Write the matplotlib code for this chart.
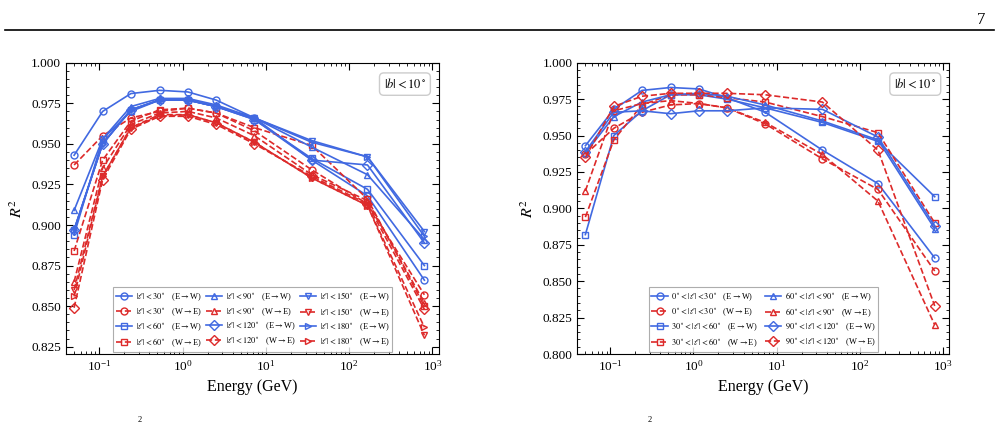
import matplotlib as mpl

mpl.use("Agg")
import matplotlib.pyplot as plt
from matplotlib.ticker import FormatStrFormatter, LogLocator

plt.rcParams["font.family"] = ["Liberation Serif", "DejaVu Serif"]
plt.rcParams["mathtext.fontset"] = "stix"

energy = [0.05, 0.11, 0.24, 0.53, 1.16, 2.53, 7.3, 35.6, 166, 800]

# left panel: cumulative longitude cuts
left_cuts = ["30", "60", "90", "120", "150", "180"]
left_markers = ["o", "s", "^", "D", "v", ">"]
left_ew = [
    [0.943, 0.970, 0.981, 0.983, 0.982, 0.977, 0.966, 0.940, 0.918, 0.866],
    [0.894, 0.953, 0.970, 0.977, 0.977, 0.973, 0.965, 0.941, 0.922, 0.875],
    [0.909, 0.953, 0.973, 0.978, 0.978, 0.974, 0.966, 0.948, 0.931, 0.891],
    [0.897, 0.950, 0.971, 0.977, 0.977, 0.973, 0.965, 0.940, 0.937, 0.889],
    [0.897, 0.950, 0.971, 0.977, 0.977, 0.973, 0.966, 0.952, 0.942, 0.896],
    [0.897, 0.950, 0.971, 0.977, 0.977, 0.973, 0.966, 0.951, 0.942, 0.893],
]
left_we = [
    [0.937, 0.955, 0.966, 0.970, 0.972, 0.969, 0.958, 0.934, 0.913, 0.857],
    [0.884, 0.940, 0.964, 0.971, 0.972, 0.969, 0.960, 0.949, 0.916, 0.850],
    [0.865, 0.935, 0.962, 0.969, 0.970, 0.966, 0.955, 0.931, 0.915, 0.852],
    [0.849, 0.928, 0.959, 0.967, 0.967, 0.962, 0.950, 0.930, 0.913, 0.848],
    [0.860, 0.930, 0.960, 0.968, 0.968, 0.963, 0.951, 0.929, 0.912, 0.832],
    [0.856, 0.930, 0.960, 0.967, 0.968, 0.963, 0.951, 0.929, 0.912, 0.837],
]

# right panel: longitude bins
right_bins = [("0", "30"), ("30", "60"), ("60", "90"), ("90", "120")]
right_markers = ["o", "s", "^", "D"]
right_ew = [
    [0.943, 0.968, 0.981, 0.983, 0.982, 0.976, 0.966, 0.940, 0.917, 0.866],
    [0.882, 0.950, 0.967, 0.978, 0.978, 0.975, 0.969, 0.959, 0.946, 0.908],
    [0.938, 0.963, 0.973, 0.978, 0.979, 0.977, 0.971, 0.960, 0.947, 0.886],
    [0.939, 0.966, 0.967, 0.965, 0.967, 0.967, 0.969, 0.968, 0.949, 0.888],
]
right_we = [
    [0.937, 0.955, 0.966, 0.971, 0.972, 0.969, 0.958, 0.934, 0.913, 0.857],
    [0.894, 0.947, 0.971, 0.978, 0.978, 0.976, 0.973, 0.963, 0.952, 0.890],
    [0.912, 0.967, 0.972, 0.974, 0.972, 0.969, 0.959, 0.937, 0.905, 0.820],
    [0.935, 0.970, 0.977, 0.979, 0.979, 0.979, 0.978, 0.973, 0.940, 0.833],
]

blue = "#4169e1"
red = "#dd2a2a"

fig = plt.figure(figsize=(9.99, 4.25), dpi=100)
ax1 = fig.add_axes([0.0661, 0.167, 0.3734, 0.6854])
ax2 = fig.add_axes([0.5779, 0.167, 0.3724, 0.6854])

style = dict(ms=5, mfc="none", mew=1.0, lw=1.2)
for i in range(6):
    ax1.plot(energy, left_ew[i], color=blue, marker=left_markers[i], ls="-",
             label=r"$|\ell|<%s^\circ$   (E$\rightarrow$W)" % left_cuts[i], **style)
    ax1.plot(energy, left_we[i], color=red, marker=left_markers[i], ls="--",
             label=r"$|\ell|<%s^\circ$   (W$\rightarrow$E)" % left_cuts[i], **style)
for i in range(4):
    lo, hi = right_bins[i]
    ax2.plot(energy, right_ew[i], color=blue, marker=right_markers[i], ls="-",
             label=r"$%s^\circ<|\ell|<%s^\circ$   (E$\rightarrow$W)" % (lo, hi), **style)
    ax2.plot(energy, right_we[i], color=red, marker=right_markers[i], ls="--",
             label=r"$%s^\circ<|\ell|<%s^\circ$   (W$\rightarrow$E)" % (lo, hi), **style)

for ax, ylo, yticks, ncol, colsp in [
        (ax1, 0.8205, [0.825, 0.85, 0.875, 0.9, 0.925, 0.95, 0.975, 1.0], 3, 0.5),
        (ax2, 0.8, [0.8, 0.825, 0.85, 0.875, 0.9, 0.925, 0.95, 0.975, 1.0], 2, 0.8)]:
    ax.set_xscale("log")
    ax.set_xlim(0.04, 1200)
    ax.set_ylim(ylo, 1.0)
    ax.set_yticks(yticks)
    ax.yaxis.set_major_formatter(FormatStrFormatter("%.3f"))
    ax.set_yticks([v + 0.005 * k for v in yticks[:-1] for k in range(1, 5)], minor=True)
    ax.xaxis.set_minor_locator(LogLocator(base=10, subs=range(2, 10), numticks=20))
    ax.tick_params(which="both", direction="in", top=True, right=True, labelsize=9.5)
    ax.tick_params(which="major", length=5, width=0.8)
    ax.tick_params(which="minor", length=2.5, width=0.6)
    ax.set_xlabel("Energy (GeV)", fontsize=11.5)
    ax.set_ylabel(r"$R^2$", fontsize=11.5)
    ax.text(0.965, 0.95, r"$|b|<10^\circ$", transform=ax.transAxes, ha="right", va="top",
            fontsize=9, bbox=dict(boxstyle="round,pad=0.35", fc="white", ec="0.8"))
    leg = ax.legend(loc="lower center", ncol=ncol, fontsize=6, handlelength=2.0,
                    columnspacing=colsp, handletextpad=0.4, labelspacing=0.35,
                    borderaxespad=0.3, borderpad=0.35, fancybox=False, edgecolor="0.6")
    leg.get_frame().set_linewidth(0.8)

# page elements
fig.text(0.986, 0.972, "7", ha="right", va="top", fontsize=12)
fig.add_artist(plt.Line2D([0.005, 0.995], [0.929, 0.929], color="black", lw=1.2,
                          transform=fig.transFigure))
fig.text(0.138, 0.003, "2", fontsize=6, va="bottom")
fig.text(0.648, 0.003, "2", fontsize=6, va="bottom")

fig.savefig("out.png", dpi=100)
